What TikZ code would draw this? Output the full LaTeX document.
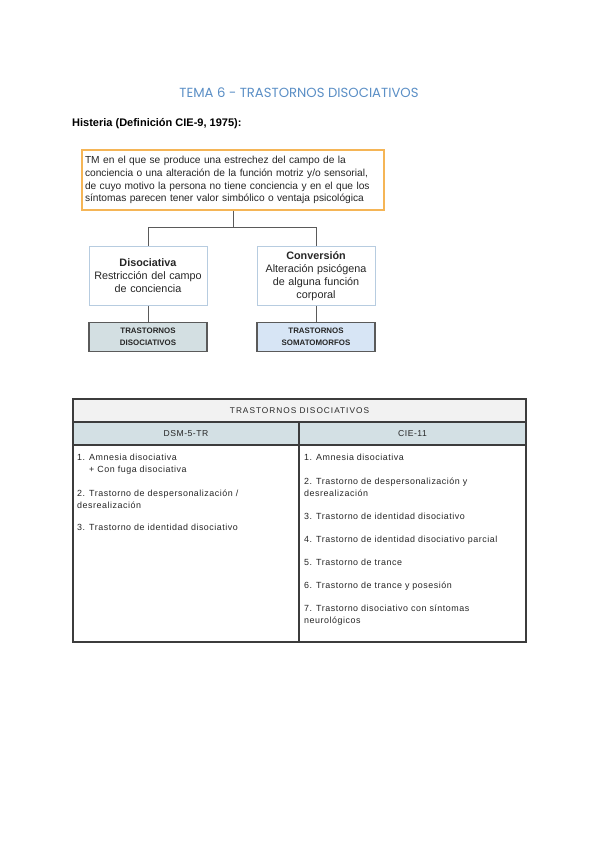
\documentclass[tikz,border=0pt]{standalone}
\usepackage{fontspec}
\setmainfont{Liberation Sans}
\newfontfamily\titlefont{Poppins}
\newfontfamily\itemfont[LetterSpace=6]{Liberation Sans}
\newfontfamily\headfont[LetterSpace=12]{Liberation Sans}
\definecolor{titleblue}{HTML}{5B8FC6}
\definecolor{boxorange}{HTML}{F5B556}
\definecolor{boxblue}{HTML}{B7CCE0}
\definecolor{grayfill}{HTML}{D3DFE2}
\definecolor{bluefill}{HTML}{D7E5F5}
\definecolor{hdrfill}{HTML}{F2F2F2}
\definecolor{subfill}{HTML}{D3E0E4}
\definecolor{linegray}{HTML}{5A5A5A}
\definecolor{tblline}{HTML}{3C3C3C}
\definecolor{bodytext}{HTML}{262626}
\tikzset{
  defbox/.style={draw=boxorange, line width=1.3pt, fill=white, inner sep=0pt,
    minimum width=302pt, minimum height=60pt, text width=296pt, align=left,
    text=bodytext, font=\fontsize{10.2}{12.8}\selectfont},
  midbox/.style={draw=boxblue, line width=0.8pt, fill=white, inner sep=0pt,
    minimum width=118pt, minimum height=59pt, text width=116pt, align=center,
    text=bodytext, font=\fontsize{10.8}{13}\selectfont},
  endbox/.style={draw=linegray, line width=1.6pt, inner sep=0pt,
    minimum width=118pt, minimum height=29pt, text width=116pt, align=center,
    text=bodytext, font=\bfseries\fontsize{7.9}{11.5}\selectfont},
  conn/.style={draw=linegray, line width=0.6pt},
  cell/.style={draw=tblline, line width=1.1pt, inner sep=0pt},
  hdrtext/.style={text=bodytext, font=\itemfont\fontsize{8.6}{10}\selectfont},
  itemtext/.style={anchor=base west, inner sep=0pt, text=bodytext, font=\itemfont\fontsize{8.9}{10}\selectfont},
}
\begin{document}
\begin{tikzpicture}[x=1pt,y=-1pt]
\useasboundingbox (0,0) rectangle (600,848);
\fill[white] (0,0) rectangle (600,848);

\node[text=titleblue, font=\titlefont\fontsize{13.2}{15}\selectfont] (title) at (299,93) {TEMA 6 - TRASTORNOS DISOCIATIVOS};
\node[anchor=base west, inner sep=0pt, font=\bfseries\fontsize{11}{13}\selectfont] (hist) at (72,127) {Histeria (Definición CIE-9, 1975):};

\node[defbox] (def) at (233,180) {TM en el que se produce una estrechez del campo de la\\conciencia o una alteración de la función motriz y/o sensorial,\\de cuyo motivo la persona no tiene conciencia y en el que los\\síntomas parecen tener valor simbólico o ventaja psicológica};

\node[midbox] (dis) at (148,276) {\textbf{Disociativa}\\Restricción del campo\\de conciencia};
\node[midbox] (conv) at (316,276) {\textbf{Conversión}\\Alteración psicógena\\de alguna función\\corporal};

\node[endbox, fill=grayfill] (tdis) at (148,337) {TRASTORNOS\\DISOCIATIVOS};
\node[endbox, fill=bluefill] (tsom) at (316,337) {TRASTORNOS\\SOMATOMORFOS};

\coordinate (junc) at (233,227);
\draw[conn] (def.south) -- (junc);
\draw[conn] (junc) -| (dis.north);
\draw[conn] (junc) -| (conv.north);
\draw[conn] (dis.south) -- (tdis.north);
\draw[conn] (conv.south) -- (tsom.north);

% table
\node[cell, fill=hdrfill, minimum width=453pt, minimum height=23pt, text=bodytext, font=\headfont\fontsize{8.3}{10}\selectfont] (thead) at (299.5,410.5) {TRASTORNOS DISOCIATIVOS};
\node[cell, fill=subfill, minimum width=226pt, minimum height=23pt, hdrtext] (dsmh) at (186,433.5) {DSM-5-TR};
\node[cell, fill=subfill, minimum width=227pt, minimum height=23pt, hdrtext] (cieh) at (412.5,433.5) {CIE-11};
\node[cell, fill=white, minimum width=226pt, minimum height=197pt] (dsmb) at (186,543.5) {};
\node[cell, fill=white, minimum width=227pt, minimum height=197pt] (cieb) at (412.5,543.5) {};

\node[itemtext] (l1) at (77,460) {1. Amnesia disociativa};
\node[itemtext] (l1b) at (89,472) {+ Con fuga disociativa};
\node[itemtext] (l2) at (77,496) {2. Trastorno de despersonalización /};
\node[itemtext] (l2b) at (77,508) {desrealización};
\node[itemtext] (l3) at (77,530) {3. Trastorno de identidad disociativo};

\node[itemtext] (r1) at (304,460) {1. Amnesia disociativa};
\node[itemtext] (r2) at (304,484) {2. Trastorno de despersonalización y};
\node[itemtext] (r2b) at (304,496) {desrealización};
\node[itemtext] (r3) at (304,519) {3. Trastorno de identidad disociativo};
\node[itemtext] (r4) at (304,542) {4. Trastorno de identidad disociativo parcial};
\node[itemtext] (r5) at (304,565) {5. Trastorno de trance};
\node[itemtext] (r6) at (304,588) {6. Trastorno de trance y posesión};
\node[itemtext] (r7) at (304,611) {7. Trastorno disociativo con síntomas};
\node[itemtext] (r7b) at (304,623) {neurológicos};
\end{tikzpicture}
\end{document}
